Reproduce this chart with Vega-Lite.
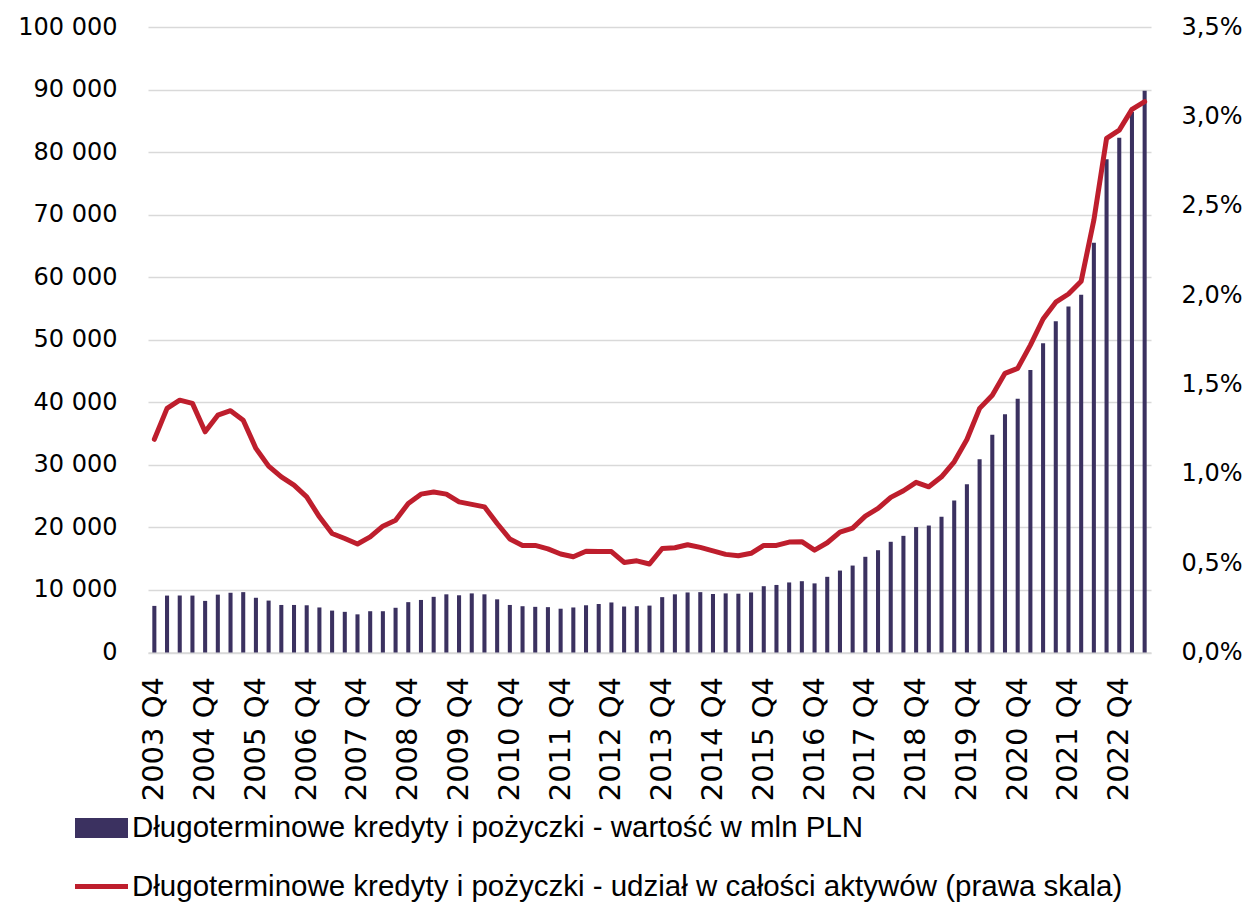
{
  "$schema": "https://vega.github.io/schema/vega-lite/v6.json",
  "width": 1003,
  "height": 625.5,
  "autosize": "none",
  "padding": {"left": 148, "top": 27, "right": 97, "bottom": 249.5},
  "background": "white",
  "data": {"values": [
    {"kwartal": "2003 Q4", "wartosc": 7450, "udzial": 1.193},
    {"kwartal": "2004 Q1", "wartosc": 9100, "udzial": 1.366},
    {"kwartal": "2004 Q2", "wartosc": 9100, "udzial": 1.412},
    {"kwartal": "2004 Q3", "wartosc": 9100, "udzial": 1.394},
    {"kwartal": "2004 Q4", "wartosc": 8250, "udzial": 1.235},
    {"kwartal": "2005 Q1", "wartosc": 9250, "udzial": 1.328},
    {"kwartal": "2005 Q2", "wartosc": 9550, "udzial": 1.353},
    {"kwartal": "2005 Q3", "wartosc": 9650, "udzial": 1.300},
    {"kwartal": "2005 Q4", "wartosc": 8750, "udzial": 1.142},
    {"kwartal": "2006 Q1", "wartosc": 8300, "udzial": 1.043},
    {"kwartal": "2006 Q2", "wartosc": 7600, "udzial": 0.983},
    {"kwartal": "2006 Q3", "wartosc": 7600, "udzial": 0.937},
    {"kwartal": "2006 Q4", "wartosc": 7550, "udzial": 0.871},
    {"kwartal": "2007 Q1", "wartosc": 7200, "udzial": 0.759},
    {"kwartal": "2007 Q2", "wartosc": 6700, "udzial": 0.666},
    {"kwartal": "2007 Q3", "wartosc": 6500, "udzial": 0.638},
    {"kwartal": "2007 Q4", "wartosc": 6100, "udzial": 0.607},
    {"kwartal": "2008 Q1", "wartosc": 6600, "udzial": 0.647},
    {"kwartal": "2008 Q2", "wartosc": 6600, "udzial": 0.707},
    {"kwartal": "2008 Q3", "wartosc": 7150, "udzial": 0.740},
    {"kwartal": "2008 Q4", "wartosc": 8050, "udzial": 0.834},
    {"kwartal": "2009 Q1", "wartosc": 8400, "udzial": 0.886},
    {"kwartal": "2009 Q2", "wartosc": 8900, "udzial": 0.898},
    {"kwartal": "2009 Q3", "wartosc": 9300, "udzial": 0.886},
    {"kwartal": "2009 Q4", "wartosc": 9150, "udzial": 0.843},
    {"kwartal": "2010 Q1", "wartosc": 9450, "udzial": 0.829},
    {"kwartal": "2010 Q2", "wartosc": 9300, "udzial": 0.815},
    {"kwartal": "2010 Q3", "wartosc": 8500, "udzial": 0.722},
    {"kwartal": "2010 Q4", "wartosc": 7600, "udzial": 0.635},
    {"kwartal": "2011 Q1", "wartosc": 7400, "udzial": 0.599},
    {"kwartal": "2011 Q2", "wartosc": 7300, "udzial": 0.599},
    {"kwartal": "2011 Q3", "wartosc": 7250, "udzial": 0.580},
    {"kwartal": "2011 Q4", "wartosc": 7000, "udzial": 0.551},
    {"kwartal": "2012 Q1", "wartosc": 7200, "udzial": 0.536},
    {"kwartal": "2012 Q2", "wartosc": 7550, "udzial": 0.567},
    {"kwartal": "2012 Q3", "wartosc": 7750, "udzial": 0.565},
    {"kwartal": "2012 Q4", "wartosc": 8000, "udzial": 0.565},
    {"kwartal": "2013 Q1", "wartosc": 7350, "udzial": 0.504},
    {"kwartal": "2013 Q2", "wartosc": 7400, "udzial": 0.513},
    {"kwartal": "2013 Q3", "wartosc": 7500, "udzial": 0.495},
    {"kwartal": "2013 Q4", "wartosc": 8850, "udzial": 0.582},
    {"kwartal": "2014 Q1", "wartosc": 9300, "udzial": 0.586},
    {"kwartal": "2014 Q2", "wartosc": 9600, "udzial": 0.603},
    {"kwartal": "2014 Q3", "wartosc": 9650, "udzial": 0.588},
    {"kwartal": "2014 Q4", "wartosc": 9350, "udzial": 0.569},
    {"kwartal": "2015 Q1", "wartosc": 9450, "udzial": 0.549},
    {"kwartal": "2015 Q2", "wartosc": 9400, "udzial": 0.541},
    {"kwartal": "2015 Q3", "wartosc": 9600, "udzial": 0.555},
    {"kwartal": "2015 Q4", "wartosc": 10600, "udzial": 0.599},
    {"kwartal": "2016 Q1", "wartosc": 10800, "udzial": 0.599},
    {"kwartal": "2016 Q2", "wartosc": 11200, "udzial": 0.618},
    {"kwartal": "2016 Q3", "wartosc": 11400, "udzial": 0.620},
    {"kwartal": "2016 Q4", "wartosc": 11050, "udzial": 0.573},
    {"kwartal": "2017 Q1", "wartosc": 12100, "udzial": 0.614},
    {"kwartal": "2017 Q2", "wartosc": 13100, "udzial": 0.674},
    {"kwartal": "2017 Q3", "wartosc": 13900, "udzial": 0.696},
    {"kwartal": "2017 Q4", "wartosc": 15300, "udzial": 0.763},
    {"kwartal": "2018 Q1", "wartosc": 16350, "udzial": 0.806},
    {"kwartal": "2018 Q2", "wartosc": 17700, "udzial": 0.868},
    {"kwartal": "2018 Q3", "wartosc": 18650, "udzial": 0.905},
    {"kwartal": "2018 Q4", "wartosc": 20050, "udzial": 0.952},
    {"kwartal": "2019 Q1", "wartosc": 20300, "udzial": 0.927},
    {"kwartal": "2019 Q2", "wartosc": 21700, "udzial": 0.983},
    {"kwartal": "2019 Q3", "wartosc": 24300, "udzial": 1.067},
    {"kwartal": "2019 Q4", "wartosc": 26900, "udzial": 1.192},
    {"kwartal": "2020 Q1", "wartosc": 30900, "udzial": 1.366},
    {"kwartal": "2020 Q2", "wartosc": 34800, "udzial": 1.440},
    {"kwartal": "2020 Q3", "wartosc": 38100, "udzial": 1.562},
    {"kwartal": "2020 Q4", "wartosc": 40550, "udzial": 1.590},
    {"kwartal": "2021 Q1", "wartosc": 45150, "udzial": 1.720},
    {"kwartal": "2021 Q2", "wartosc": 49450, "udzial": 1.866},
    {"kwartal": "2021 Q3", "wartosc": 52950, "udzial": 1.960},
    {"kwartal": "2021 Q4", "wartosc": 55300, "udzial": 2.006},
    {"kwartal": "2022 Q1", "wartosc": 57200, "udzial": 2.078},
    {"kwartal": "2022 Q2", "wartosc": 65500, "udzial": 2.420},
    {"kwartal": "2022 Q3", "wartosc": 78850, "udzial": 2.877},
    {"kwartal": "2022 Q4", "wartosc": 82300, "udzial": 2.923},
    {"kwartal": "2023 Q1", "wartosc": 86400, "udzial": 3.039},
    {"kwartal": "2023 Q2", "wartosc": 89800, "udzial": 3.082}
  ]},
  "encoding": {
    "x": {
      "field": "kwartal",
      "type": "ordinal",
      "sort": null,
      "scale": {"paddingInner": 0.68, "paddingOuter": 0.34},
      "axis": {
        "title": null,
        "values": ["2003 Q4", "2004 Q4", "2005 Q4", "2006 Q4", "2007 Q4", "2008 Q4", "2009 Q4", "2010 Q4", "2011 Q4", "2012 Q4", "2013 Q4", "2014 Q4", "2015 Q4", "2016 Q4", "2017 Q4", "2018 Q4", "2019 Q4", "2020 Q4", "2021 Q4", "2022 Q4"],
        "labelAngle": -90,
        "labelFont": "DejaVu Sans",
        "labelFontSize": 29,
        "labelColor": "#000000",
        "labelPadding": 24,
        "ticks": false,
        "domain": true,
        "domainColor": "#D9D9D9",
        "domainWidth": 1.5,
        "grid": false
      }
    }
  },
  "layer": [
    {
      "mark": {"type": "bar"},
      "encoding": {
        "y": {
          "field": "wartosc",
          "type": "quantitative",
          "scale": {"domain": [0, 100000], "nice": false},
          "axis": {
            "title": null,
            "values": [0, 10000, 20000, 30000, 40000, 50000, 60000, 70000, 80000, 90000, 100000],
            "labelExpr": "replace(format(datum.value, ','), ',', ' ')",
            "labelFont": "DejaVu Sans",
            "labelFontSize": 24,
            "labelColor": "#000000",
            "labelPadding": 31,
            "ticks": false,
            "domain": false,
            "grid": true,
            "gridColor": "#D9D9D9",
            "gridWidth": 1.5
          }
        },
        "fill": {
          "datum": "Długoterminowe kredyty i pożyczki - wartość w mln PLN",
          "type": "nominal",
          "scale": {"range": ["#3B3160"]},
          "legend": {
            "title": null,
            "orient": "none",
            "legendX": -73,
            "legendY": 774.5,
            "symbolType": "M-1,-0.377H1V0.377H-1Z",
            "symbolSize": 2809,
            "symbolStrokeWidth": 0,
            "labelFont": "Liberation Sans",
            "labelFontSize": 29.5,
            "labelColor": "#000000",
            "labelOffset": 4,
            "labelLimit": 2000,
            "padding": 0
          }
        }
      }
    },
    {
      "mark": {"type": "line", "strokeWidth": 5, "strokeJoin": "round", "strokeCap": "round"},
      "encoding": {
        "y": {
          "field": "udzial",
          "type": "quantitative",
          "scale": {"domain": [0, 3.5], "nice": false},
          "axis": {
            "title": null,
            "orient": "right",
            "values": [0, 0.5, 1, 1.5, 2, 2.5, 3, 3.5],
            "labelExpr": "replace(format(datum.value, '.1f'), '.', ',') + '%'",
            "labelFont": "DejaVu Sans",
            "labelFontSize": 24,
            "labelColor": "#000000",
            "labelPadding": 30,
            "ticks": false,
            "domain": false,
            "grid": false
          }
        },
        "stroke": {
          "datum": "Długoterminowe kredyty i pożyczki - udział w całości aktywów (prawa skala)",
          "type": "nominal",
          "scale": {"range": ["#BE1E2D"]},
          "legend": {
            "title": null,
            "orient": "none",
            "legendX": -75.5,
            "legendY": 830.5,
            "symbolType": "stroke",
            "symbolSize": 2809,
            "symbolStrokeWidth": 5,
            "labelFont": "Liberation Sans",
            "labelFontSize": 29.5,
            "labelColor": "#000000",
            "labelOffset": 1.5,
            "labelLimit": 2000,
            "padding": 0
          }
        }
      }
    }
  ],
  "resolve": {"scale": {"y": "independent"}},
  "config": {"view": {"stroke": null}}
}
